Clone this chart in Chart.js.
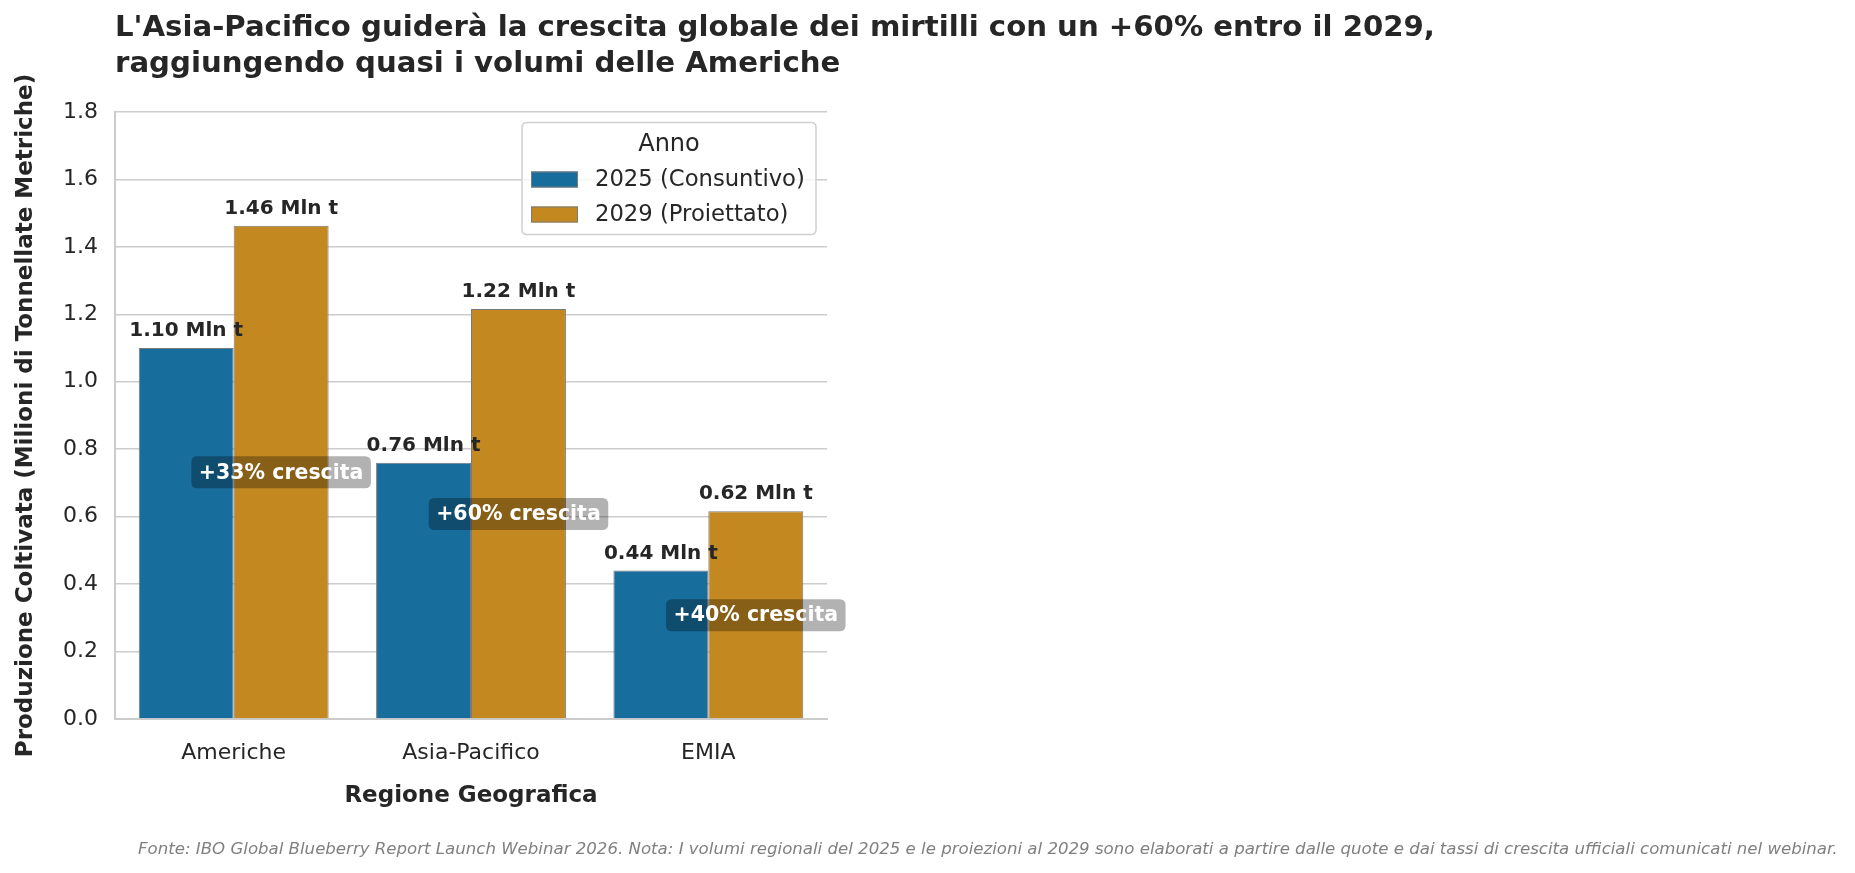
<!DOCTYPE html>
<html>
<head>
<meta charset="utf-8">
<script src="https://cdn.jsdelivr.net/npm/chart.js@4.4.1/dist/chart.umd.min.js"></script>
<style>
  body { margin: 0; background: #fff; }
  canvas { display: block; }
</style>
</head>
<body>
<canvas id="myChart" width="1855" height="873"></canvas>
<script>
// dati
const regioni = ['Americhe', 'Asia-Pacifico', 'EMIA'];
const anni = ['2025 (Consuntivo)', '2029 (Proiettato)'];
const prod2025 = [1.10, 0.76, 0.44];
const prod2029 = [1.463, 1.216, 0.616];
const yMax = 1.8;
const yStep = 0.2;

const titolo = [
  "L'Asia-Pacifico guiderà la crescita globale dei mirtilli con un +60% entro il 2029,",
  'raggiungendo quasi i volumi delle Americhe'
];
const nota = 'Fonte: IBO Global Blueberry Report Launch Webinar 2026. Nota: I volumi regionali del 2025 e le proiezioni al 2029 sono elaborati a partire dalle quote e dai tassi di crescita ufficiali comunicati nel webinar.';

const FONT = "'DejaVu Sans', sans-serif";
const TXT = '#262626';
const BLU = '#176D9C';
const ORO = '#C38820';

function roundRect(ctx, x, y, w, h, r) {
  ctx.beginPath();
  ctx.moveTo(x + r, y);
  ctx.lineTo(x + w - r, y);
  ctx.quadraticCurveTo(x + w, y, x + w, y + r);
  ctx.lineTo(x + w, y + h - r);
  ctx.quadraticCurveTo(x + w, y + h, x + w - r, y + h);
  ctx.lineTo(x + r, y + h);
  ctx.quadraticCurveTo(x, y + h, x, y + h - r);
  ctx.lineTo(x, y + r);
  ctx.quadraticCurveTo(x, y, x + r, y);
  ctx.closePath();
}

const extra = {
  id: 'extra',
  afterDatasetsDraw(chart) {
    const ctx = chart.ctx;
    const yScale = chart.scales.y;
    const area = chart.chartArea;
    ctx.save();

    // etichette sopra le barre
    ctx.font = 'bold 20px ' + FONT;
    ctx.fillStyle = TXT;
    ctx.textAlign = 'center';
    ctx.textBaseline = 'middle';
    chart.data.datasets.forEach((ds, i) => {
      chart.getDatasetMeta(i).data.forEach((bar, j) => {
        ctx.fillText(ds.data[j].toFixed(2) + ' Mln t', bar.x, bar.y - 17);
      });
    });

    // box crescita
    const meta29 = chart.getDatasetMeta(1);
    ctx.font = 'bold 20.5px ' + FONT;
    prod2029.forEach((v, j) => {
      const g = Math.round((v / prod2025[j] - 1) * 100);
      const txt = '+' + g + '% crescita';
      const cx = meta29.data[j].x;
      const cy = yScale.getPixelForValue(v / 2);
      const w = ctx.measureText(txt).width + 15;
      const h = 32;
      roundRect(ctx, cx - w / 2, cy - h / 2, w, h, 6);
      ctx.fillStyle = 'rgba(0,0,0,0.3)';
      ctx.fill();
      ctx.fillStyle = '#ffffff';
      ctx.fillText(txt, cx, cy + 1);
    });

    // legenda
    const lx = area.right - 305, ly = area.top + 10.5, lw = 294, lh = 112;
    roundRect(ctx, lx, ly, lw, lh, 5);
    ctx.fillStyle = 'rgba(255,255,255,0.8)';
    ctx.fill();
    ctx.strokeStyle = '#d0d0d0';
    ctx.lineWidth = 1.5;
    ctx.stroke();
    ctx.fillStyle = TXT;
    ctx.font = '24px ' + FONT;
    ctx.textAlign = 'center';
    ctx.fillText('Anno', lx + lw / 2, ly + 22);
    ctx.font = '22.7px ' + FONT;
    ctx.textAlign = 'left';
    chart.data.datasets.forEach((ds, i) => {
      const ry = ly + 57 + i * 35;
      ctx.fillStyle = ds.backgroundColor;
      ctx.fillRect(lx + 9, ry - 8, 47, 16);
      ctx.strokeStyle = '#7a7a7a';
      ctx.lineWidth = 1;
      ctx.strokeRect(lx + 9.5, ry - 7.5, 46, 15);
      ctx.fillStyle = TXT;
      ctx.fillText(ds.label, lx + 73, ry + 1);
    });
    ctx.restore();
  },
  afterDraw(chart) {
    const ctx = chart.ctx;
    ctx.save();
    ctx.fillStyle = TXT;
    ctx.font = 'bold 29.2px ' + FONT;
    ctx.textAlign = 'left';
    ctx.textBaseline = 'middle';
    ctx.fillText(titolo[0], chart.chartArea.left, 28.5);
    ctx.fillText(titolo[1], chart.chartArea.left, 64);

    ctx.fillStyle = '#808080';
    ctx.font = 'italic 16.6px ' + FONT;
    ctx.fillText(nota, 138, 850);
    ctx.restore();
  }
};

new Chart(document.getElementById('myChart'), {
  type: 'bar',
  data: {
    labels: regioni,
    datasets: [{
      label: anni[0],
      data: prod2025,
      backgroundColor: BLU,
      borderColor: '#7a7a7a',
      borderWidth: 1,
      categoryPercentage: 0.8,
      barPercentage: 1.0
    }, {
      label: anni[1],
      data: prod2029,
      backgroundColor: ORO,
      borderColor: '#7a7a7a',
      borderWidth: 1,
      categoryPercentage: 0.8,
      barPercentage: 1.0
    }]
  },
  options: {
    responsive: false,
    devicePixelRatio: 1,
    animation: false,
    layout: { padding: { left: 0, top: 112, right: 1028, bottom: 0 } },
    plugins: {
      legend: { display: false },
      title: { display: false },
      tooltip: { enabled: false }
    },
    scales: {
      x: {
        grid: { display: false, drawTicks: false },
        border: { display: true, color: '#cccccc', width: 2 },
        ticks: { color: TXT, font: { family: FONT, size: 22 }, padding: 21 },
        title: {
          display: true,
          text: 'Regione Geografica',
          color: TXT,
          font: { family: FONT, size: 23, weight: 'bold' },
          padding: { top: 0, bottom: 63 }
        },
        afterFit: s => { s.height = 154; }
      },
      y: {
        min: 0,
        max: yMax,
        ticks: {
          stepSize: yStep,
          color: TXT,
          font: { family: FONT, size: 22 },
          padding: 17,
          callback: v => v.toFixed(1)
        },
        grid: { color: '#cccccc', lineWidth: 1.5, drawTicks: false },
        border: { display: true, color: '#cccccc', width: 2 },
        title: {
          display: true,
          text: 'Produzione Coltivata (Milioni di Tonnellate Metriche)',
          color: TXT,
          font: { family: FONT, size: 23, weight: 'bold' },
          padding: { top: 12, bottom: 0 }
        },
        afterFit: s => { s.width = 115; }
      }
    }
  },
  plugins: [extra]
});
</script>
</body>
</html>
